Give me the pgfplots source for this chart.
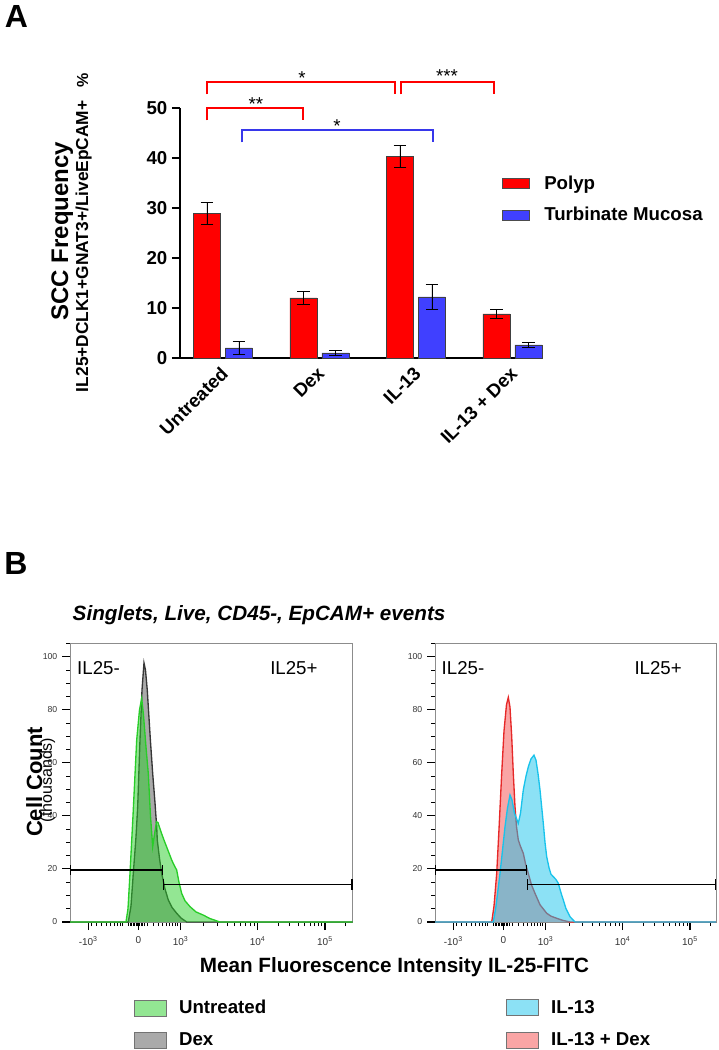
\documentclass[border=0pt]{standalone}
\usepackage{pgfplots}
\pgfplotsset{compat=1.18}
\usepackage{fontspec}
\setmainfont{Liberation Sans}

\definecolor{polyp}{RGB}{255,0,0}
\definecolor{turb}{RGB}{64,64,255}
\definecolor{brblue}{RGB}{55,55,235}
\definecolor{untr}{RGB}{40,205,40}
\definecolor{dexfill}{RGB}{170,170,170}
\definecolor{dexline}{RGB}{55,55,55}
\definecolor{ilthirteen}{RGB}{25,195,235}
\definecolor{ildexfill}{RGB}{250,165,165}
\definecolor{ildexline}{RGB}{230,40,40}

\newcommand{\fs}[1]{\fontsize{#1}{#1}\selectfont}

\pgfplotsset{
  swatchA/.style={legend image code/.code={%
    \draw[##1,draw=black!70,line width=0.4pt] (0pt,-3.75pt) rectangle (20.25pt,3.75pt);}},
  swatchB/.style={legend image code/.code={%
    \draw[##1,draw=black!55,line width=0.6pt] (0pt,-6pt) rectangle (24pt,6pt);}},
  flow/.style={
    scale only axis, anchor=south west,
    height=209.25pt,
    xmin=0, ymin=0, ymax=105.2,
    axis line style={black!45, line width=0.5pt},
    xtick={18.3,68.3,110.7,187.7,255},
    xticklabels={-10\textsuperscript{3},0,10\textsuperscript{3},10\textsuperscript{4},10\textsuperscript{5}},
    minor xtick={21.7,26.7,31.7,36.7,40.7,44.3,47.3,50,52.7,58.5,60,61.5,63,64.5,66,67,69.5,71,72.5,74,77.3,83.3,88.3,92.7,96,99.3,102.3,105,107.3,133.9,147.4,157.1,164.5,170.6,175.8,180.2,184.2,208,219.8,228.2,234.7,240.1,244.6,248.5,251.9,275.3},
    ytick={0,20,...,100},
    minor ytick={5,10,15,25,30,35,45,50,55,65,70,75,85,90,95,105},
    xtick pos=bottom, ytick pos=left, tick align=outside,
    major tick length=6pt, minor tick length=3pt,
    tick style={black, line width=0.8pt},
    minor tick style={black, line width=0.6pt},
    yticklabel style={font=\fs{6.5}, text=black!80},
    xticklabel style={font=\fs{7.5}, text=black!80, yshift=-1.5pt},
    /pgf/number format/assume math mode=true,
    clip=false,
    legend cell align=left,
    legend style={draw=none, fill=none, font=\fs{14}\bfseries, row sep=9pt, inner sep=0pt,
      /tikz/every odd column/.append style={column sep=7pt}},
    swatchB, reverse legend,
  },
  hist/.style={line width=1pt, fill opacity=0.5},
  gate/.style={black, line width=1pt, |-|, forget plot},
  bracket/.style={sharp plot, line width=1.5pt, forget plot},
}

\begin{document}
\begin{tikzpicture}
\path[use as bounding box] (0pt,0pt) rectangle (538.5pt,787.5pt);

\node[font=\fs{24}\bfseries] at (12.4pt,775.1pt) {A};
\node[font=\fs{24}\bfseries] at (12pt,365pt) {B};

% Panel A: SCC frequency
\begin{axis}[
  at={(135pt,519pt)}, anchor=south west, scale only axis,
  width=271.5pt, height=187.5pt,
  ybar=3.75pt, bar width=20.25pt,
  xmin=-0.4456, xmax=3.306, ymin=0, ymax=50,
  axis x line=bottom, axis y line=left,
  axis line style={-, line width=1.1pt},
  xtick={0,1,2,3}, xticklabels={Untreated,Dex,IL-13,IL-13 + Dex},
  x tick style={draw=none},
  ytick={0,10,...,50}, y tick style={black, line width=1.1pt},
  tick align=outside, major tick length=6pt,
  ticklabel style={font=\fs{14}\bfseries},
  xticklabel style={rotate=45, anchor=east, xshift=2pt, yshift=-3pt},
  /pgf/number format/assume math mode=true,
  ylabel={SCC Frequency},
  ylabel style={at={(axis description cs:-0.309,0.508)}, anchor=base, font=\fs{18}\bfseries},
  clip=false,
  legend cell align=left,
  legend style={at={(axis description cs:0.889,0.74)}, anchor=north west, draw=none, fill=none,
    font=\fs{14}\bfseries, row sep=8pt, inner sep=0pt,
    /tikz/every odd column/.append style={column sep=9pt}},
  swatchA,
]
\addplot[fill=polyp, draw=black!75, line width=0.4pt,
  error bars/.cd, y dir=both, y explicit,
  error bar style={black, line width=0.6pt},
  error mark options={rotate=90, mark size=4.75pt, black, line width=0.6pt}]
  coordinates {(0,28.9) +- (0,2.2) (1,12.0) +- (0,1.35) (2,40.3) +- (0,2.2) (3,8.8) +- (0,0.9)};
\addplot[fill=turb, draw=black!75, line width=0.4pt,
  error bars/.cd, y dir=both, y explicit,
  error bar style={black, line width=0.6pt},
  error mark options={rotate=90, mark size=4.75pt, black, line width=0.6pt}]
  coordinates {(0,2.0) +- (0,1.25) (1,1.0) +- (0,0.55) (2,12.2) +- (0,2.55) (3,2.6) +- (0,0.5)};
\legend{Polyp, Turbinate Mucosa}

\addplot[bracket, polyp] coordinates {(-0.166,52.7) (-0.166,55.1) (1.782,55.1) (1.782,52.7)};
\addplot[bracket, polyp] coordinates {(1.841,52.7) (1.841,55.1) (2.808,55.1) (2.808,52.7)};
\addplot[bracket, polyp] coordinates {(-0.166,47.5) (-0.166,49.9) (0.826,49.9) (0.826,47.5)};
\addplot[bracket, brblue] coordinates {(0.197,43.1) (0.197,45.6) (2.176,45.6) (2.176,43.1)};
\node[font=\fs{14}, anchor=base] at (axis cs:0.819,54.7) {*};
\node[font=\fs{14}, anchor=base] at (axis cs:2.321,55.1) {***};
\node[font=\fs{14}, anchor=base] at (axis cs:0.342,49.5) {**};
\node[font=\fs{14}, anchor=base] at (axis cs:1.181,45.1) {*};

\node[rotate=90, anchor=base, font=\fs{13}\bfseries] at (axis description cs:-0.254,0.502)
  {IL25+DCLK1+GNAT3+/LiveEpCAM+\hspace{10pt}{\fs{12}\%}};
\end{axis}

% Panel B left: Untreated vs Dex
\begin{axis}[flow, at={(52.5pt,96pt)}, width=212pt, xmax=282.7,
  title={Singlets, Live, CD45-, EpCAM+ events},
  title style={at={(axis description cs:-0.007,1.071)}, anchor=west, font=\fs{15.5}\bfseries\itshape},
  ylabel={Cell Count},
  ylabel style={at={(axis description cs:-0.099,0.502)}, anchor=base, font=\fs{16.5}\bfseries},
  xlabel={Mean Fluorescence Intensity IL-25-FITC},
  xlabel style={at={(axis description cs:1.148,-0.161)}, anchor=center, font=\fs{15.5}\bfseries},
  legend style={at={(axis description cs:0.2264,-0.27)}, anchor=north west},
]
\addplot[hist, draw=dexline, fill=dexfill, fill opacity=1] coordinates {
(0,0) (55,0) (58.3,0) (61,6) (63.3,18.3) (66,32) (67.7,43.5) (70,68.6) (72,87.4) (74,97.7)
(75.5,95) (77.3,87.4) (78.3,81.2) (80.5,68) (82.7,56) (85,45) (86.7,35.9) (87.3,30.9)
(89.5,24) (91.7,18.3) (95,12.5) (98.3,8.3) (102,5.5) (106.7,3.3) (111,1.5) (116.7,0) (282.7,0)};
\addplot[hist, draw=untr, fill=untr] coordinates {
(0,0) (56,0) (58,5) (60,18.3) (63,40) (66.7,68.6) (69.5,80) (71.7,84.3) (73.5,78) (76,66)
(78.3,56) (80.5,40) (82.7,28.4) (84.5,33) (86.5,37.8) (88,37.5) (91,34) (94,30.9) (98,27)
(101.7,23.4) (104,21.5) (106.7,19.6) (109,15) (111.7,10.8) (115,8) (120,5.8) (126,3.8)
(133.3,2.6) (140,1.3) (150,0) (282.7,0)};
\legend{Dex, Untreated}
\addplot[gate] coordinates {(0,19.6) (93,19.6)};
\addplot[gate] coordinates {(93,14.2) (282.7,14.2)};
\node[font=\fs{14}] at (axis description cs:0.1008,0.910) {IL25-};
\node[font=\fs{14}] at (axis description cs:0.792,0.910) {IL25+};
\node[rotate=90, anchor=base, font=\fs{12}] at (axis description cs:-0.0637,0.509) {(thousands)};
\end{axis}

% Panel B right: IL-13 vs IL-13 + Dex
\begin{axis}[flow, at={(326.25pt,96pt)}, width=210.75pt, xmax=281,
  legend style={at={(axis description cs:0.2527,-0.27)}, anchor=north west},
]
\addplot[hist, draw=ildexline, fill=ildexfill, fill opacity=1] coordinates {
(0,0) (55,0) (56.7,0) (59,6) (61.7,18.3) (64,35) (66.7,56) (69,72) (71.5,82) (73.3,84.7)
(75,81) (76.7,70) (78.3,56) (80,43.5) (81.5,36) (83.3,30.9) (85.5,28.5) (88.3,25.9)
(90.5,22) (93.3,18.3) (96.5,14) (100,10.8) (105,6.5) (111.7,3.3) (116,2.2) (121.7,1.4)
(128,0.6) (135,0) (281,0)};
\addplot[hist, draw=ilthirteen, fill=ilthirteen] coordinates {
(0,0) (57,0) (58.3,0) (61,6) (65,18.3) (67.5,27) (70,35.9) (72.5,43) (75,47.9) (77,46)
(79.5,41) (83.3,37.2) (85.5,41) (88.3,49.8) (91,55) (93.3,58.5) (96,61.5) (99,62.9)
(101,61) (103,56) (105,49.8) (108.3,37.2) (110,30) (111.7,24.6) (114,20.5) (116,18)
(118.3,17.1) (121,16) (123.3,14.6) (126,11) (128.3,8.3) (131,5) (135,2.0) (140,0) (281,0)};
\legend{IL-13 + Dex, IL-13}
\addplot[gate] coordinates {(0,19.6) (92,19.6)};
\addplot[gate] coordinates {(92,14.2) (281,14.2)};
\node[font=\fs{14}] at (axis description cs:0.0996,0.910) {IL25-};
\node[font=\fs{14}] at (axis description cs:0.794,0.910) {IL25+};
\end{axis}
\end{tikzpicture}
\end{document}
